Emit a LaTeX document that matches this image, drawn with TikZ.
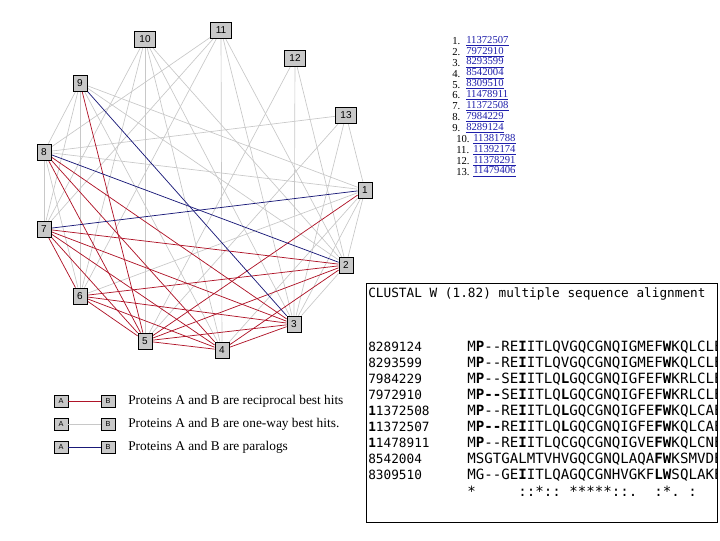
\documentclass[tikz,border=0pt]{standalone}
\usepackage{fontspec}
\setmainfont{Liberation Serif}
\setsansfont{Liberation Sans}
\setmonofont{DejaVu Sans Mono}
\definecolor{ngray}{RGB}{200,200,200}
\definecolor{egray}{RGB}{200,200,200}
\definecolor{ered}{RGB}{175,20,40}
\definecolor{eblue}{RGB}{25,25,120}
\definecolor{linkblue}{RGB}{30,30,170}
\pgfdeclarelayer{bg}
\pgfsetlayers{bg,main}
\newcommand{\Bd}[1]{{\bfseries #1}}
\begin{document}
\begin{tikzpicture}[x=0.75pt,y=-0.75pt,
  pn/.style={draw=black, fill=ngray, line width=0.6pt, inner sep=0pt,
    minimum height=12pt, minimum width=10.5pt,
    font=\sffamily\fontsize{7.5}{7.5}\selectfont},
  pnw/.style={pn, minimum width=15.75pt},
  lgbox/.style={draw=black, fill=ngray, line width=0.6pt, inner sep=0pt,
    minimum height=9pt, minimum width=10.5pt,
    font=\sffamily\fontsize{5.5}{5.5}\selectfont},
  gl/.style={draw=egray, line width=0.5pt},
  rl/.style={draw=ered, line width=0.55pt},
  bl/.style={draw=eblue, line width=0.55pt},
  lnum/.style={anchor=west, inner sep=0pt, font=\fontsize{8}{8}\selectfont},
  llink/.style={anchor=west, inner sep=0pt, text=linkblue, font=\fontsize{8}{8}\selectfont},
  lgtext/.style={anchor=west, inner sep=0pt, font=\fontsize{10}{10}\selectfont},
  mono/.style={anchor=west, inner sep=0pt, font=\ttfamily\fontsize{9.55}{9.55}\selectfont},
  monoseq/.style={anchor=west, inner sep=0pt, font=\ttfamily\fontsize{10.6}{10.6}\selectfont}
]
\useasboundingbox (0,0) rectangle (720,540);

% graph nodes
\node[pn]  (n1)  at (365,190) {1};
\node[pn]  (n2)  at (346,265) {2};
\node[pn]  (n3)  at (294,324) {3};
\node[pn]  (n4)  at (222,350) {4};
\node[pn]  (n5)  at (145,341) {5};
\node[pn]  (n6)  at (80,296)  {6};
\node[pn]  (n7)  at (44,229)  {7};
\node[pn]  (n8)  at (44,152)  {8};
\node[pn]  (n9)  at (80,83)   {9};
\node[pnw] (n10) at (145,39)  {10};
\node[pnw] (n11) at (221,30)  {11};
\node[pnw] (n12) at (295,58)  {12};
\node[pnw] (n13) at (346,115) {13};

\begin{pgfonlayer}{bg}
\foreach \a/\b in {1/2,1/3,1/4,1/6,1/8,1/9,2/3,2/9,4/9,6/8,6/9,7/8,7/9,8/9,
  10/2,10/3,10/4,10/5,10/6,10/7,11/8,11/7,11/6,11/4,11/3,11/2,
  12/5,12/3,12/2,13/8,13/5,13/3,13/1}
  \draw[gl] (n\a) -- (n\b);
\foreach \a/\b in {9/5,8/5,8/4,8/3,7/6,7/5,7/4,7/3,7/2,6/5,6/4,6/3,6/2,
  5/4,5/3,5/2,5/1,4/3,4/2}
  \draw[rl] (n\a) -- (n\b);
\foreach \a/\b in {8/2,9/3,7/1}
  \draw[bl] (n\a) -- (n\b);
\end{pgfonlayer}

% list of links
\foreach \k/\id in {1/11372507,2/7972910,3/8293599,4/8542004,5/8309510,
  6/11478911,7/11372508,8/7984229,9/8289124}{
  \node[lnum]  (ln\k) at (452,{41+10.9*(\k-1)}) {\k.};
  \node[llink] (lk\k) at (466,{41+10.9*(\k-1)}) {\underline{\id}};
}
\foreach \k/\id in {10/11381788,11/11392174,12/11378291,13/11479406}{
  \node[lnum]  (ln\k) at (456,{41+10.9*(\k-1)}) {\k.};
  \node[llink] (lk\k) at (473,{41+10.9*(\k-1)}) {\underline{\id}};
}

% legend
\foreach \r/\yy/\col in {1/401/ered,2/424/egray,3/447/eblue}{
  \node[lgbox] (la\r) at (61,\yy) {A};
  \node[lgbox] (lb\r) at (108,\yy) {B};
  \draw[draw=\col, line width=0.6pt] (la\r) -- (lb\r);
}
\node[lgtext] (lt1) at (128,401) {Proteins A and B are reciprocal best hits};
\node[lgtext] (lt2) at (128,424) {Proteins A and B are one-way best hits.};
\node[lgtext] (lt3) at (128,447) {Proteins A and B are paralogs};

% alignment box
\draw[line width=0.75pt] (366,283) rectangle (717,522);
\begin{scope}
\clip (366,283) rectangle (716,522);
\node[mono] (hdr) at (368,294) {CLUSTAL W (1.82) multiple sequence alignment};
\foreach \k/\nm/\sq in {
  0/8289124/{M\Bd{P}--RE\Bd{I}ITLQVGQCGNQIGMEF\Bd{W}KQLCLE},
  1/8293599/{M\Bd{P}--RE\Bd{I}ITLQVGQCGNQIGMEF\Bd{W}KQLCLE},
  2/7984229/{M\Bd{P}--SE\Bd{I}ITLQ\Bd{L}GQCGNQIGFEF\Bd{W}KRLCLE},
  3/7972910/{M\Bd{P--}SE\Bd{I}ITLQ\Bd{L}GQCGNQIGFEF\Bd{W}KRLCLE},
  4/\Bd{1}1372508/{M\Bd{P}--RE\Bd{I}ITLQ\Bd{L}GQCGNQIGFE\Bd{FW}KQLCAE},
  5/\Bd{1}1372507/{M\Bd{P--}RE\Bd{I}ITLQ\Bd{L}GQCGNQIGFE\Bd{FW}KQLCAE},
  6/\Bd{1}1478911/{M\Bd{P}--RE\Bd{I}ITLQCGQCGNQIGVE\Bd{FW}KQLCNE},
  7/8542004/{MSGTGALMTVHVGQCGNQLAQA\Bd{F}\Bd{W}KSMVDE},
  8/8309510/{MG--GE\Bd{I}ITLQAGQCGNHVGKF\Bd{L}\Bd{W}SQLAKE}}{
  \node[mono] (nm\k) at (368,{347+16*\k}) {\nm};
  \node[monoseq] (sq\k) at (467,{347+16*\k}) {\sq};
}
\node[monoseq] (cons) at (467,491) {\obeyspaces*\ \ \ \ \ ::*::\ *****::.\ \ :*.\ :};
\end{scope}
\end{tikzpicture}
\end{document}
